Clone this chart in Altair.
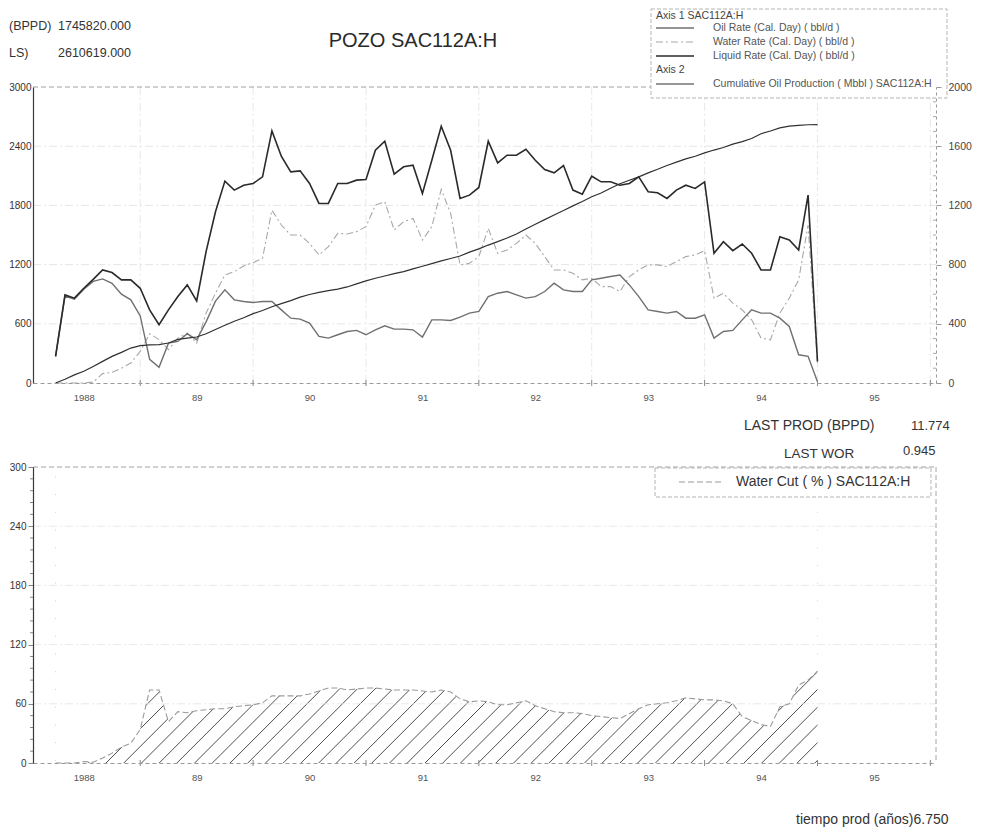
import json
import altair as alt
import numpy as np
import pandas as pd

# ---------------- data ----------------
START_YEAR = 1988.25          # first monthly record
year_labels = ["1988", "89", "90", "91", "92", "93", "94", "95"]
rate_ticks = [0, 600, 1200, 1800, 2400, 3000]
cum_ticks = [0, 400, 800, 1200, 1600, 2000]
wc_ticks = [0, 60, 120, 180, 240, 300]

liquid_rate = [270, 893, 860, 960, 1050, 1146, 1119, 1045, 1045, 960, 741, 590, 741, 876, 994, 832,
               1331, 1736, 2046, 1955, 2005, 2022, 2090, 2555, 2299, 2140, 2150, 2022, 1820, 1820, 2022,
               2022, 2056, 2063, 2359, 2450, 2117, 2191, 2208, 1921, 2258, 2602, 2359, 1871, 1904, 1982,
               2450, 2231, 2309, 2309, 2369, 2258, 2164, 2130, 2204, 1955, 1914, 2096, 2039, 2039, 2005,
               2022, 2090, 1938, 1928,
               1871, 1955, 2005, 1972, 2039, 1315, 1432, 1341, 1409, 1315, 1146, 1146, 1483, 1449, 1348,
               1904, 219]
oil_rate = [270, 880, 850, 950, 1030, 1055, 1011, 900, 843, 680, 240, 160, 404, 421, 500, 438,
            620, 830, 944, 843, 826, 816, 826, 826, 741, 657, 647, 607, 472, 455, 489,
            522, 533, 489, 539, 580, 546, 546, 539, 465, 640, 640, 634, 667, 708, 725,
            876, 910, 927, 893, 860, 876, 927, 1011, 944, 927, 927, 1045, 1062, 1079, 1095,
            994, 876, 741, 725,
            708, 725, 657, 657, 691, 455, 522, 533, 640, 741, 708, 708, 657, 573, 286,
            270, 12]
water_rate = [0, 0, 0, 0, 10, 95, 108, 150, 202, 320, 500, 440, 337, 455, 505, 404,
              708, 910, 1095, 1129, 1186, 1220, 1264, 1752, 1601, 1500, 1500, 1415, 1298, 1382, 1517,
              1510, 1534, 1584, 1803, 1837, 1550, 1635, 1668, 1449, 1584, 1962, 1719, 1197, 1213, 1281,
              1567, 1314, 1348, 1415, 1500, 1415, 1281, 1146, 1146, 1112, 1045, 1062, 977, 977, 927,
              1079, 1146, 1197, 1197,
              1180, 1230, 1281, 1298, 1341, 860, 910, 809, 741, 640, 455, 438, 708, 860, 1045,
              1601, 205]
cum_oil_mbbl = [0, 25, 55, 79, 112, 146, 180, 207, 236, 252, 258, 259, 270, 295, 303, 311,
                333, 362, 390, 417, 441, 469, 490, 515, 536, 557, 580, 598, 612, 624, 634,
                649, 670, 690, 708, 723, 739, 753, 771, 789, 807, 825, 841, 858, 884, 906,
                932, 955, 980, 1007, 1040, 1073, 1104, 1135, 1165, 1197, 1226, 1258, 1284, 1316, 1346,
                1370, 1393, 1420, 1444,
                1470, 1492, 1514, 1532, 1555, 1574, 1591, 1614, 1631, 1652, 1684, 1703, 1724, 1735, 1741,
                1745, 1746]
water_cut_pct = [0, 0, 0, 1.5, 0.8, 5, 10, 16, 20, 34, 74, 74, 42, 52, 51, 53,
                 54, 55, 55, 57, 58, 59, 61, 68, 68, 68, 68, 70, 73, 76, 76,
                 74, 75, 76, 76, 75, 74, 74, 74, 73, 72, 74, 72, 65, 62, 63,
                 62, 59, 59, 61, 63, 58, 55, 52, 51, 51, 50, 48, 47, 46, 45,
                 50, 55, 59, 60,
                 61, 63, 66, 65, 64, 64, 63, 60, 47, 43, 39, 37, 57, 60, 79,
                 84, 93]

# ---------------- frame ----------------
W, H = 903, 296
FONT = "Liberation Sans"
n = len(liquid_rate)
t = [START_YEAR + i / 12 for i in range(n)]
df = pd.DataFrame({"t": t, "liquid": liquid_rate, "oil": oil_rate, "water": water_rate,
                   "cum": cum_oil_mbbl, "wc": water_cut_pct})
df["wc_top"] = 300

X0, X1 = 1988.05, 1996.05
xs = alt.Scale(domain=[X0, X1], nice=False, zero=False)
ys_rate = alt.Scale(domain=[0, 3000], nice=False)
ys_cum = alt.Scale(domain=[0, 2000], nice=False)
ys_wc = alt.Scale(domain=[0, 300], nice=False)

label_pos = [1988.5 + k for k in range(len(year_labels))]
label_expr = json.dumps(year_labels) + "[floor(datum.value) - 1988]"

XAX = alt.Axis(values=label_pos, labelExpr=label_expr, ticks=False, domainDash=[4, 3],
               domainColor="#9a9a9a", labelColor="#555", labelFontSize=9.5, labelFont=FONT,
               labelPadding=9, grid=False, title=None, zindex=1)
LAX = alt.Axis(values=rate_ticks, format="d", ticks=False, labelPadding=2, domainColor="#3a3a3a",
               domainWidth=1.2, labelColor="#333", labelFontSize=10, labelFont=FONT,
               grid=False, title=None, zindex=1)
RAX = alt.Axis(orient="right", values=cum_ticks, format="d", tickSize=5, tickColor="#999",
               domainDash=[3, 3], domainColor="#999", labelColor="#444", labelFontSize=10.5,
               labelFont=FONT, labelPadding=7, grid=False, title=None, zindex=1)
WAX = alt.Axis(values=wc_ticks, format="d", tickSize=5, tickColor="#888", labelPadding=2,
               domainColor="#3a3a3a", domainWidth=1.2, labelColor="#333", labelFontSize=10,
               labelFont=FONT, grid=False, title=None, zindex=1)


def X(field):
    return alt.X(field, type="quantitative", scale=xs, axis=XAX)


def one(**cols):
    return pd.DataFrame({k: [v] for k, v in cols.items()})


def text(s, x, y, size, align="left", color="#333"):
    return alt.Chart(one(s=s)).mark_text(align=align, baseline="middle", fontSize=size, font=FONT,
                                         color=color).encode(x=alt.value(x), y=alt.value(y), text="s:N")


def hline(x1, x2, y, color, width=1.0, dash=None):
    kw = dict(color=color, strokeWidth=width)
    if dash:
        kw["strokeDash"] = dash
    return alt.Chart(one(a=0)).mark_rule(**kw).encode(x=alt.value(x1), x2=alt.value(x2), y=alt.value(y))


def box(x1, x2, y1, y2):
    return alt.Chart(one(a=0)).mark_rect(fill="white", stroke="#b5b5b5", strokeWidth=1,
                                         strokeDash=[4, 2]).encode(
        x=alt.value(x1), x2=alt.value(x2), y=alt.value(y1), y2=alt.value(y2))


base = alt.Chart(df)
years_df = pd.DataFrame({"yr": list(range(1989, 1997))})

# ================= top panel =================
vgrid = alt.Chart(years_df).mark_rule(color="#e2e2e2", strokeDash=[8, 3, 2, 3], strokeWidth=0.8).encode(
    x=X("yr"), y=alt.value(0), y2=alt.value(H))
year_ticks_top = alt.Chart(years_df).mark_rule(color="#888").encode(
    x=X("yr"), y=alt.value(H - 3), y2=alt.value(H + 3))

hgrid = alt.Chart(pd.DataFrame({"v": rate_ticks[1:-1]})).mark_rule(
    color="#dedede", strokeDash=[8, 3, 2, 3], strokeWidth=0.8).encode(
    y=alt.Y("v:Q", scale=ys_rate, axis=LAX), x=alt.value(0), x2=alt.value(W))

water_line = base.mark_line(color="#a8a8a8", strokeWidth=1.1, strokeDash=[7, 3, 2, 3]).encode(
    x=X("t"), y=alt.Y("water:Q", scale=ys_rate, axis=LAX))
oil_line = base.mark_line(color="#707070", strokeWidth=1.4).encode(
    x=X("t"), y=alt.Y("oil:Q", scale=ys_rate, axis=LAX))
liquid_line = base.mark_line(color="#2a2a2a", strokeWidth=1.6).encode(
    x=X("t"), y=alt.Y("liquid:Q", scale=ys_rate, axis=LAX))

left_group = alt.layer(hgrid, water_line, oil_line, liquid_line)

cum_line = base.mark_line(color="#303030", strokeWidth=1.2).encode(
    x=X("t"), y=alt.Y("cum:Q", scale=ys_cum, axis=RAX))
cum_minor = alt.Chart(pd.DataFrame({"v": [v for v in range(100, 2000, 100) if v % 400]})).mark_rule(
    color="#aaa").encode(y=alt.Y("v:Q", scale=ys_cum, axis=RAX), x=alt.value(W - 3), x2=alt.value(W))
right_group = alt.layer(cum_line, cum_minor)

LEG = 10.5
top_extras = [
    hline(0, W, 0, "#a0a0a0", 1, [5, 3]),
    year_ticks_top,
    # legend box
    box(618, 914, -78, 11),
    text("Axis 1  SAC112A:H", 623, -71, LEG, color="#444"),
    hline(623, 661, -59, "#707070", 1.3),
    text("Oil Rate (Cal. Day) ( bbl/d )", 680, -59, LEG, color="#555"),
    hline(623, 661, -45, "#a8a8a8", 1.1, [7, 3, 2, 3]),
    text("Water Rate (Cal. Day) ( bbl/d )", 680, -45, LEG, color="#555"),
    hline(623, 661, -31, "#2a2a2a", 1.4),
    text("Liquid Rate (Cal. Day) ( bbl/d )", 680, -31, LEG, color="#555"),
    text("Axis 2", 623, -17, LEG, color="#444"),
    hline(623, 661, -3, "#303030", 1.2),
    text("Cumulative Oil Production ( Mbbl ) SAC112A:H", 680, -3, LEG, color="#555"),
    # header texts
    text("(BPPD)", -24, -61, 12.5),
    text("1745820.000", 25, -61, 12.5),
    text("LS)", -24, -34, 12.5),
    text("2610619.000", 25, -34, 12.5),
    text("POZO  SAC112A:H", 380, -46, 20, align="center", color="#2a2a2a"),
    # footer texts
    text("LAST PROD (BPPD)", 711, 339, 14),
    text("11.774", 878, 339, 13),
    text("LAST WOR", 751, 367, 13.5),
    text("0.945", 870, 364, 13),
]

top = alt.layer(vgrid, left_group, right_group, *top_extras).resolve_scale(y="independent").properties(
    width=W, height=H)

# ================= bottom panel =================
hatch = pd.DataFrame({"b": np.arange(1985.4, 1996.2, 0.157)})
hatch["e"] = hatch["b"] + H / (W / (X1 - X0))
hatch["y0"] = 0
hatch["y1"] = 300
hatch_layer = alt.Chart(hatch).mark_rule(color="#3a3a3a", strokeWidth=0.9, clip=True).encode(
    x=X("b"), x2="e:Q", y=alt.Y("y0:Q", scale=ys_wc, axis=WAX), y2="y1:Q")

mask_area = base.mark_area(color="white", clip=True).encode(
    x=X("t"), y=alt.Y("wc:Q", scale=ys_wc, axis=WAX), y2="wc_top:Q")
mask_rects = alt.Chart(pd.DataFrame({"x0": [X0 - 1, t[-1]], "x1": [t[0], X1 + 1]})).mark_rect(
    color="white", clip=True).encode(x=X("x0"), x2="x1:Q", y=alt.value(0), y2=alt.value(H))

wc_grid = alt.Chart(pd.DataFrame({"v": wc_ticks[1:-1]})).mark_rule(
    color="#e4e4e4", strokeDash=[8, 3, 2, 3], strokeWidth=0.8).encode(
    y=alt.Y("v:Q", scale=ys_wc, axis=WAX), x=alt.value(0), x2=alt.value(W))
wc_minor = alt.Chart(pd.DataFrame({"v": [v for v in range(12, 300, 12) if v % 60]})).mark_rule(
    color="#888").encode(y=alt.Y("v:Q", scale=ys_wc, axis=WAX), x=alt.value(-3), x2=alt.value(1))
year_ticks_bot = alt.Chart(years_df).mark_rule(color="#888").encode(
    x=X("yr"), y=alt.value(H - 3), y2=alt.value(H + 3))

wc_line = base.mark_line(color="#9a9a9a", strokeWidth=1.1, strokeDash=[6, 3]).encode(
    x=X("t"), y=alt.Y("wc:Q", scale=ys_wc, axis=WAX))

bottom = alt.layer(
    hatch_layer, mask_area, mask_rects, wc_grid, wc_minor, year_ticks_bot, wc_line,
    hline(0, W, 0, "#a0a0a0", 1, [5, 3]),
    alt.Chart(one(a=0)).mark_rule(color="#a8a8a8", strokeDash=[5, 3]).encode(
        x=alt.value(W), y=alt.value(0), y2=alt.value(H)),
    box(622, 898, 1, 30),
    hline(646, 690, 15, "#9a9a9a", 1.1, [6, 3]),
    text("Water Cut ( % ) SAC112A:H", 703, 15, 14, color="#333"),
    text("tiempo prod (años)6.750", 763, 353, 14, color="#333"),
).properties(width=W, height=H)

chart = alt.vconcat(top, bottom, spacing=84, bounds="flush").properties(
    padding=0
).configure(font=FONT, view=alt.ViewConfig(stroke="transparent"))

chart.save("out.html", embed_options={"renderer": "svg", "actions": False})
